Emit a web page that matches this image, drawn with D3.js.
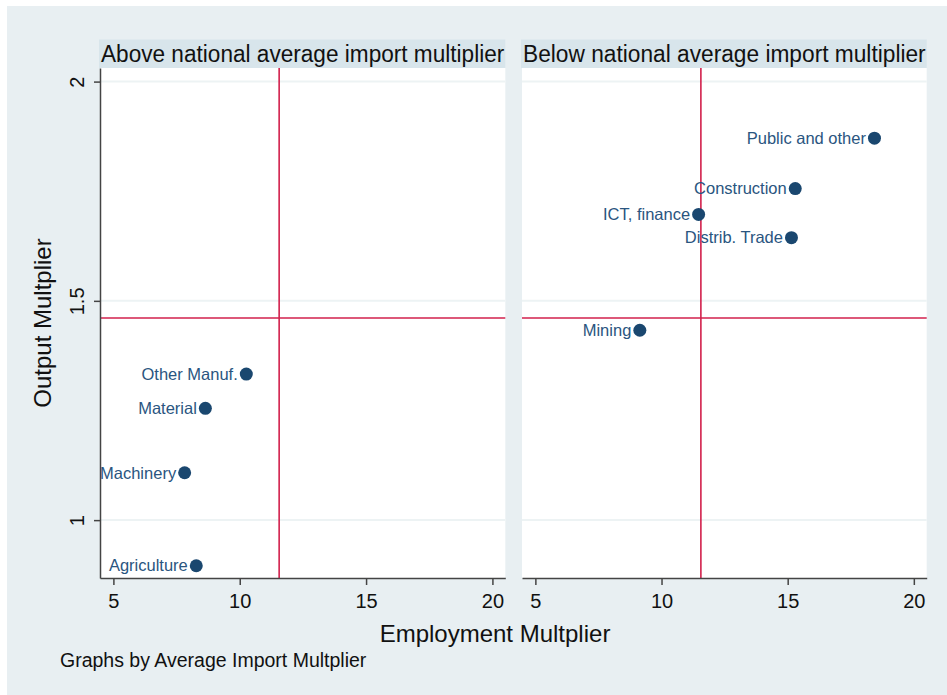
<!DOCTYPE html>
<html><head><meta charset="utf-8">
<script src="https://cdn.jsdelivr.net/npm/d3@7"></script>
<style>body{margin:0;background:#fff}svg{display:block;font-family:"Liberation Sans",Arial,sans-serif}</style>
</head><body><svg id="c" width="947" height="695"></svg>
<script>
const panels = ["Above national average import multiplier", "Below national average import multiplier"];
const sectors = ["Other Manuf.", "Material", "Machinery", "Agriculture",
                 "Public and other", "Construction", "ICT, finance", "Distrib. Trade", "Mining"];
const employment = [10.26, 8.64, 7.82, 8.28, 18.44, 15.30, 11.47, 15.15, 9.14];
const output = [1.333, 1.255, 1.108, 0.896, 1.871, 1.756, 1.697, 1.644, 1.433];
const group = [0, 0, 0, 0, 1, 1, 1, 1, 1];
const xTicks = [5, 10, 15, 20];
const yTicks = [1, 1.5, 2];
const avgEmployment = 11.56;
const avgOutput = 1.461;

const svg = d3.select("#c");
svg.append("rect").attr("x", 7).attr("y", 6).attr("width", 940).attr("height", 689).attr("fill", "#e8eff2");

const y = d3.scaleLinear().domain([0.868, 2.031]).range([578, 68]);
const xRanges = [[100, 505.3], [522, 926.7]];
const navy = "#1a476f", red = "#d2204c";
const FF = "Liberation Sans, Arial, sans-serif";

panels.forEach((title, p) => {
  const x = d3.scaleLinear().domain([4.47, 20.51]).range(xRanges[p]);
  const [x0, x1] = xRanges[p];
  const g = svg.append("g");
  g.append("rect").attr("x", x0).attr("y", 68).attr("width", x1 - x0).attr("height", 510).attr("fill", "#fff");
  // header strip
  g.append("rect").attr("x", x0 - 1).attr("y", 39.5).attr("width", x1 - x0 + 1).attr("height", 28.5).attr("fill", "#d8e5eb");
  g.append("text").attr("x", (x0 + x1) / 2).attr("y", 61.5).attr("text-anchor", "middle")
    .attr("font-size", 23).attr("fill", "#111").attr("textLength", x1 - x0 - 2).attr("lengthAdjust", "spacingAndGlyphs").text(title);
  // grid
  g.selectAll(".grid").data(yTicks).join("line")
    .attr("x1", x0).attr("x2", x1).attr("y1", d => y(d)).attr("y2", d => y(d))
    .attr("stroke", "#edf3f4").attr("stroke-width", 2);
  // reference lines
  g.append("line").attr("x1", x(avgEmployment)).attr("x2", x(avgEmployment)).attr("y1", 68).attr("y2", 578)
    .attr("stroke", red).attr("stroke-width", 1.6);
  g.append("line").attr("x1", x0).attr("x2", x1).attr("y1", y(avgOutput)).attr("y2", y(avgOutput))
    .attr("stroke", red).attr("stroke-width", 1.6);
  // x axis
  const ax = g.append("g").attr("transform", "translate(0,578)")
    .call(d3.axisBottom(x).tickValues(xTicks).tickSize(7).tickPadding(9).tickSizeOuter(0));
  ax.select(".domain").attr("stroke", "#444").attr("stroke-width", 1.5);
  ax.selectAll(".tick line").attr("stroke", "#444").attr("stroke-width", 1.5);
  ax.selectAll(".tick text").attr("font-size", 20).attr("fill", "#111").attr("font-family", FF);
  if (p === 0) {
    const ay = g.append("g").attr("transform", `translate(${x0},0)`)
      .call(d3.axisLeft(y).tickValues(yTicks).tickSize(6).tickFormat(d3.format("")).tickSizeOuter(0));
    ay.select(".domain").attr("stroke", "#444").attr("stroke-width", 1.5);
    ay.selectAll(".tick line").attr("stroke", "#444").attr("stroke-width", 1.5);
    ay.selectAll(".tick text").attr("font-size", 20).attr("fill", "#111")
      .attr("font-family", FF)
      .attr("text-anchor", "middle").attr("dy", null)
      .attr("transform", "translate(-23,0) rotate(-90)").attr("x", 0).attr("y", 0)
      .attr("dominant-baseline", "central");
  }
  // points
  const idx = sectors.map((s, i) => i).filter(i => group[i] === p);
  g.selectAll(".pt").data(idx).join("circle")
    .attr("cx", i => x(employment[i])).attr("cy", i => y(output[i])).attr("r", 6.5).attr("fill", navy);
  g.selectAll(".lbl").data(idx).join("text")
    .attr("x", i => x(employment[i]) - 8.5).attr("y", i => y(output[i])).attr("dy", "0.35em")
    .attr("text-anchor", "end").attr("font-size", 16.5).attr("fill", "#2a5580").text(i => sectors[i]);
});

svg.append("text").attr("transform", "translate(50.5,323) rotate(-90)").attr("text-anchor", "middle")
  .attr("font-size", 24).attr("fill", "#111").text("Output Multplier");
svg.append("text").attr("x", 495).attr("y", 641.5).attr("text-anchor", "middle")
  .attr("font-size", 24).attr("fill", "#111").text("Employment Multplier");
svg.append("text").attr("x", 60).attr("y", 667)
  .attr("font-size", 19.5).attr("fill", "#111").text("Graphs by Average Import Multplier");
</script></body></html>
